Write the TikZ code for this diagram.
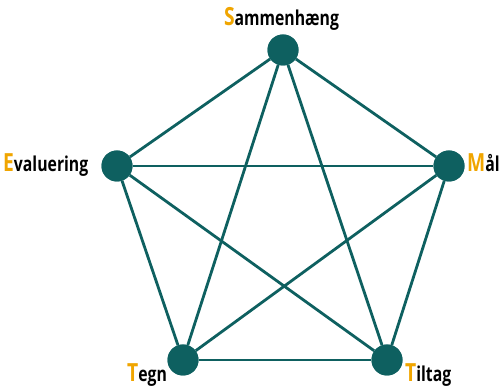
\documentclass[tikz,border=0pt]{standalone}
\usepackage{fontspec}
\setmainfont{Open Sans}
\usetikzlibrary{positioning}
\definecolor{teal}{RGB}{14,96,96}
\definecolor{gul}{RGB}{240,165,0}
\tikzset{
    punkt/.style={circle, fill=teal, minimum size=31pt, inner sep=0pt},
    kant/.style={teal, line width=2.8pt},
    navn/.style={inner sep=0pt, font=\bfseries}
}
% first letter large and yellow, the rest narrow and black
\newcommand{\ord}[2]{\scalebox{0.77}[1]{{\color{gul}\fontsize{25}{25}\selectfont #1}\fontsize{20.5}{20.5}\selectfont #2}}
\begin{document}
\begin{tikzpicture}[x=1pt, y=1pt]
        \useasboundingbox (0,0) rectangle (503,387);
        \node[punkt] (sam) at (283,337) {};
        \node[punkt] (eva) at (117,221) {};
        \node[punkt] (mal) at (449,221) {};
        \node[punkt] (teg) at (183,27) {};
        \node[punkt] (til) at (387,27) {};
        \foreach \a/\b in {sam/eva, sam/mal, sam/teg, sam/til, eva/mal, eva/teg, eva/til, mal/teg, mal/til, teg/til} {
            \draw[kant] (\a) -- (\b);
        }
        \foreach \n in {sam, eva, mal, teg, til} {
            \node[punkt] at (\n) {};
        }
        \node[navn, anchor=base] (samtxt) at (281.5,361) {\ord{S}{ammenhæng}};
        \node[navn, anchor=base west] (evatxt) at (3,215) {\ord{E}{valuering}};
        \node[navn, anchor=base west] (maltxt) at (467,215) {\ord{M}{ål}};
        \node[navn, anchor=base west] (tegtxt) at (127,5.5) {\ord{T}{egn}};
        \node[navn, anchor=base west] (tiltxt) at (405,5.5) {\ord{T}{iltag}};
    \end{tikzpicture}
\end{document}
